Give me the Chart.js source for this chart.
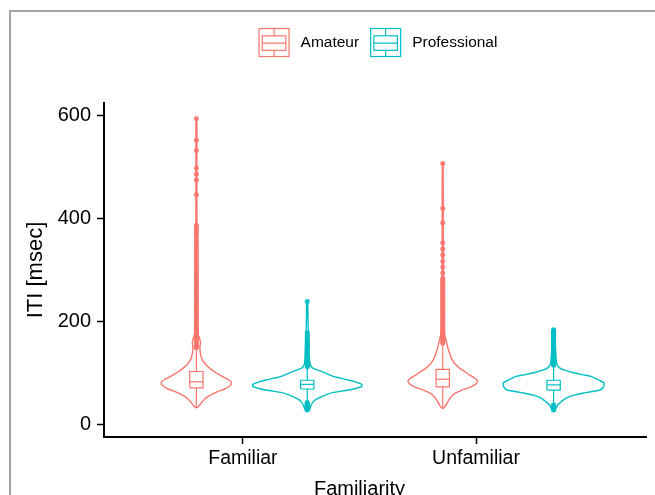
<!DOCTYPE html>
<html>
<head>
<meta charset="utf-8">
<script src="https://cdn.jsdelivr.net/npm/chart.js@4.4.1/dist/chart.umd.min.js"></script>
<style>
  html, body { margin: 0; padding: 0; background: #fff; overflow: hidden; }
  #wrap { position: relative; width: 655px; height: 495px; }
  #frame { position: absolute; left: 9px; top: 10px; width: 700px; height: 600px;
           border-left: 2px solid #a3a3a3; border-top: 2px solid #a3a3a3; pointer-events: none; }
</style>
</head>
<body>
<div id="wrap">
  <canvas id="c" width="655" height="495"></canvas>
  <div id="frame"></div>
</div>
<script>
// ---------------- data ----------------
const categories = ['Familiar', 'Unfamiliar'];
const groups = ['Amateur', 'Professional'];
const groupColors = ['#F8766D', '#00BFC4'];
const yTicks = [0, 200, 400, 600];
const xTickPositions = [0.964, 1.910];

// violin profiles: ITI values (msec) and relative density
const amFamValues  = [31, 34, 40, 48, 55, 62, 68, 74, 80, 86, 92, 99, 107, 116, 126, 137, 148, 158, 166, 174, 190, 230, 300, 400, 500, 593];
const amFamDensity = [0, 2, 4.5, 8, 13, 20, 28, 33, 35, 32, 26, 20, 14, 9, 5.5, 4, 3.5, 4, 3.2, 1.8, 1.1, 0.8, 0.6, 0.5, 0.45, 0.4];

const proFamValues  = [25, 29, 35, 42, 47, 52, 57, 61, 65, 69, 73, 77, 81, 85, 89, 93, 98, 103, 108, 113, 120, 135, 155, 175, 200, 238];
const proFamDensity = [0, 2.5, 3.5, 5.5, 8, 13, 19, 25, 38, 48, 54, 54, 49, 42, 33, 25, 19, 13, 6, 3.5, 2.5, 2, 1.5, 1.2, 0.8, 0.4];

const amUnfValues  = [30, 33, 38, 45, 52, 60, 66, 72, 78, 84, 90, 96, 101, 108, 118, 128, 138, 148, 157, 165, 175, 200, 250, 350, 506];
const amUnfDensity = [0, 2, 3.5, 5.5, 8, 12.5, 19, 28, 33, 34.5, 31, 26, 22.5, 17, 11.7, 8.5, 6.7, 5, 4, 3, 1.8, 1, 0.7, 0.5, 0.4];

const proUnfValues  = [27, 31, 37, 43, 50, 56, 61, 66, 71, 76, 80, 85, 89, 92, 96, 100, 105, 109, 115, 125, 140, 160, 183];
const proUnfDensity = [0, 2.5, 4, 7.5, 12, 20, 32, 46, 49, 50, 50, 45, 41, 38, 28, 19, 10, 6, 3.5, 2.5, 2, 1.5, 0.5];

// box stats: [lower whisker, Q1, median, Q3, upper whisker]
const amFamBox  = [31, 70, 82, 102, 147];
const proFamBox = [43, 68, 77, 85, 110];
const amUnfBox  = [30, 72, 87, 106, 156];
const proUnfBox = [38, 66, 76, 85, 113];

// outliers
const amFamOutliers = [148, 151, 153, 156, 159, 162, 165, 168, 171, 174, 177, 180, 183, 186, 189, 192, 196, 199, 202, 205, 208, 212, 215, 218, 221, 225, 228, 231, 235, 238, 242, 245, 249, 252, 256, 259, 263, 267, 271, 275, 279, 283, 287, 291, 296, 300, 305, 309, 314, 319, 324, 329, 334, 339, 345, 350, 356, 362, 367, 372, 377, 382, 386, 445, 474, 485, 497, 531, 551, 593];
const proFamOutliers = [27, 28, 29, 30, 31, 32, 33, 34, 35, 36, 37, 38, 39, 40, 41, 42, 111, 113, 115, 117, 119, 121, 123, 125, 127, 129, 131, 133, 135, 137, 139, 141, 143, 145, 147, 149, 151, 153, 155, 157, 159, 161, 163, 166, 169, 172, 177, 238];
const amUnfOutliers = [157, 160, 163, 166, 169, 172, 175, 178, 181, 184, 187, 190, 193, 196, 199, 202, 205, 208, 211, 214, 217, 220, 223, 226, 229, 232, 235, 238, 241, 244, 247, 250, 253, 256, 259, 262, 265, 268, 271, 274, 277, 280, 283, 293, 305, 316, 328, 340, 352, 391, 419, 506];
const proUnfOutliers = [27, 28, 29, 30, 31, 32, 33, 34, 35, 36, 37, 114, 116, 118, 120, 122, 124, 126, 128, 130, 132, 134, 136, 138, 140, 142, 144, 146, 148, 150, 152, 154, 156, 158, 160, 162, 164, 166, 168, 170, 172, 174, 176, 178, 180, 183];

// ---------------- build datasets ----------------
const groupOffsets = [-0.225, 0.225];
const densityScale = 0.225 / 55;
const boxHalf = 0.027;

const series = [
  { g: 0, c: 0, vals: amFamValues,  dens: amFamDensity,  box: amFamBox,  out: amFamOutliers },
  { g: 1, c: 0, vals: proFamValues, dens: proFamDensity, box: proFamBox, out: proFamOutliers },
  { g: 0, c: 1, vals: amUnfValues,  dens: amUnfDensity,  box: amUnfBox,  out: amUnfOutliers },
  { g: 1, c: 1, vals: proUnfValues, dens: proUnfDensity, box: proUnfBox, out: proUnfOutliers }
];

function alpha(hex, a) {
  const r = parseInt(hex.slice(1, 3), 16), g = parseInt(hex.slice(3, 5), 16), b = parseInt(hex.slice(5, 7), 16);
  return `rgba(${r},${g},${b},${a})`;
}

const medians = [], boxes = [], whiskers = [], outliers = [], violins = [];
series.forEach(s => {
  const cx = (s.c + 1) + groupOffsets[s.g];
  const col = groupColors[s.g];
  const [wl, q1, med, q3, wh] = s.box;
  const lineBase = { type: 'line', pointRadius: 0, tension: 0, fill: false, borderColor: col, spanGaps: false };

  medians.push(Object.assign({}, lineBase, {
    data: [{ x: cx - boxHalf, y: med }, { x: cx + boxHalf, y: med }], borderWidth: 1.2
  }));
  boxes.push(Object.assign({}, lineBase, {
    data: [{ x: cx - boxHalf, y: q1 }, { x: cx + boxHalf, y: q1 }, { x: cx + boxHalf, y: q3 },
           { x: cx - boxHalf, y: q3 }, { x: cx - boxHalf, y: q1 }],
    borderWidth: 1.2, fill: 'shape', backgroundColor: '#ffffff'
  }));
  whiskers.push(Object.assign({}, lineBase, {
    data: [{ x: cx, y: wl }, { x: cx, y: q1 }, { x: cx, y: null }, { x: cx, y: q3 }, { x: cx, y: wh }],
    borderWidth: 1.2
  }));
  outliers.push({
    type: 'scatter',
    data: s.out.map(v => ({ x: cx, y: v })),
    pointRadius: 2.5, pointBorderWidth: 0,
    pointBackgroundColor: alpha(col, 0.9), borderColor: alpha(col, 0.9)
  });
  const pts = [];
  for (let i = 0; i < s.vals.length; i++) pts.push({ x: cx + s.dens[i] * densityScale, y: s.vals[i] });
  for (let i = s.vals.length - 1; i >= 0; i--) pts.push({ x: cx - s.dens[i] * densityScale, y: s.vals[i] });
  violins.push(Object.assign({}, lineBase, { data: pts, borderWidth: 1.4, tension: 0.3 }));
});

const datasets = [...medians, ...boxes, ...whiskers, ...outliers, ...violins];

// ---------------- plugins ----------------
const FONT = '"Liberation Sans", Arial, Helvetica, sans-serif';

const keyLegend = {
  id: 'keyLegend',
  afterDraw(chart) {
    const ctx = chart.ctx, area = chart.chartArea;
    ctx.save();
    ctx.font = '15.5px ' + FONT;
    const iconW = 31, iconH = 29, gap = 11;
    const widths = groups.map(g => ctx.measureText(g).width);
    const total = groups.length * (iconW + gap) + widths.reduce((a, b) => a + b, 0) + gap * (groups.length - 1);
    let x = (area.left + area.right) / 2 + 3 - total / 2;
    const top = 28;
    groups.forEach((g, i) => {
      const col = groupColors[i];
      ctx.strokeStyle = col; ctx.lineWidth = 1.2;
      ctx.strokeRect(x + 0.5, top + 0.5, iconW - 1, iconH - 1);
      const bx0 = x + iconW * 0.12, bx1 = x + iconW * 0.88;
      const by0 = top + iconH * 0.27, by1 = top + iconH * 0.77, bm = top + iconH * 0.52;
      ctx.strokeRect(bx0, by0, bx1 - bx0, by1 - by0);
      ctx.beginPath();
      ctx.moveTo(bx0, bm); ctx.lineTo(bx1, bm);
      const mx = x + iconW / 2;
      ctx.moveTo(mx, top + 1); ctx.lineTo(mx, by0);
      ctx.moveTo(mx, by1); ctx.lineTo(mx, top + iconH - 1);
      ctx.stroke();
      ctx.fillStyle = '#000';
      ctx.textBaseline = 'middle'; ctx.textAlign = 'left';
      ctx.fillText(g, x + iconW + gap, top + iconH / 2 + 0.5);
      x += iconW + gap + widths[i] + gap;
    });
    // x-axis title centred under the category ticks
    const xs = chart.scales.x;
    const cxTitle = (xs.getPixelForValue(xTickPositions[0]) + xs.getPixelForValue(xTickPositions[1])) / 2;
    ctx.font = '20px ' + FONT;
    ctx.textAlign = 'center'; ctx.textBaseline = 'alphabetic';
    ctx.fillText('Familiarity', cxTitle, 494.5);
    ctx.restore();
  }
};

Chart.defaults.font.family = FONT;
Chart.defaults.color = '#000';

new Chart(document.getElementById('c'), {
  type: 'scatter',
  data: { datasets },
  options: {
    responsive: false,
    animation: false,
    events: [],
    layout: { padding: { top: 103, right: 9, left: 0, bottom: 0 } },
    plugins: { legend: { display: false }, tooltip: { enabled: false } },
    scales: {
      x: {
        type: 'linear', min: 0.4, max: 2.6,
        afterFit(scale) { scale.height = 58; },
        afterBuildTicks(scale) { scale.ticks = xTickPositions.map(v => ({ value: v })); },
        ticks: { font: { size: 19.5 }, color: '#000', padding: 3,
                 callback: (v, i) => categories[i] },
        grid: { drawOnChartArea: false, drawTicks: true, tickLength: 7, tickColor: '#000', tickWidth: 1.5 },
        border: { display: true, color: '#000', width: 2 },
        title: { display: false }
      },
      y: {
        type: 'linear', min: -25.2, max: 623.3,
        afterFit(scale) { scale.width = 104; },
        afterBuildTicks(scale) { scale.ticks = yTicks.map(v => ({ value: v })); },
        ticks: { font: { size: 20 }, color: '#000', padding: 6 },
        grid: { drawOnChartArea: false, drawTicks: true, tickLength: 7, tickColor: '#000', tickWidth: 1.5 },
        border: { display: true, color: '#000', width: 2 },
        title: { display: true, text: 'ITI [msec]', font: { size: 22 }, color: '#000', padding: { top: 23, bottom: 0 } }
      }
    }
  },
  plugins: [keyLegend]
});
</script>
</body>
</html>
